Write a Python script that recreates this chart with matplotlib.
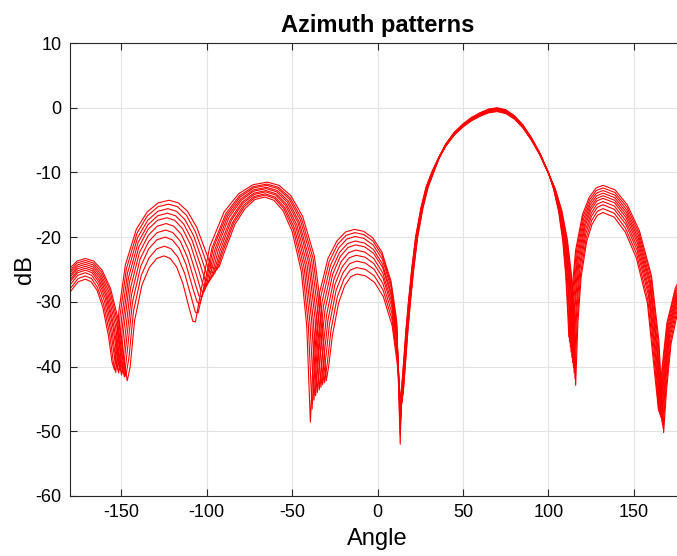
import matplotlib
matplotlib.use('Agg')
import matplotlib.pyplot as plt

# azimuth patterns, 10 cuts (angle in deg, level in dB)
curve0_angle = [-180.0, -175.3, -171.0, -167.6, -164.2, -160.8, -157.4, -155.4, -154.0,
                -151.4, -147.6, -141.2, -134.8, -128.4, -122.0, -116.6, -111.2, -105.8, -100.4, -97.2, -95.0,
                -92.7, -89.2, -83.4, -77.6, -71.8, -66.0, -60.7, -55.3, -50.0, -44.6, -41.4, -39.3,
                -37.2, -34.1, -29.0, -23.8, -18.7, -13.5, -8.1, -2.8, 2.6, 7.9, 11.2, 13.3,
                13.9, 15.2, 16.6, 18.1, 20.0, 22.3, 25.4, 28.4, 31.7,
                36, 40, 45, 50, 55, 60, 65, 70, 75, 80, 85, 90, 95, 100,
                103.0, 106.0, 108.4, 110.2, 111.4, 112.0,
                113.6, 116.0, 120.0, 124.0, 128.0, 132.0, 139.1, 146.2, 153.3, 160.4, 164.7, 167.5,
                169.2, 171.8, 176.1, 180.0]
curve0_db = [-28.5, -26.9, -26.5, -26.9, -28.2, -30.8, -35.4, -39.3, -40.5,
             -31.5, -24.3, -18.8, -16.1, -14.7, -14.3, -14.7, -16.0, -18.5, -22.3, -24.7, -24.8,
             -24.6, -22.0, -18.0, -15.6, -14.2, -13.8, -14.3, -15.9, -19.1, -25.3, -33.8, -48.6,
             -36.1, -28.8, -23.3, -20.6, -19.2, -18.8, -19.1, -20.1, -22.3, -26.8, -32.8, -52.0,
             -44.0, -39.5, -34.5, -30.0, -25.0, -20.0, -15.5, -12.3, -10.0,
             -7.6, -5.6, -3.8, -2.5, -1.5, -0.8, -0.2, 0.0, -0.3, -1.2, -2.6, -4.6, -7.0, -10.0,
             -12.5, -16.0, -20.5, -26.0, -32.0, -35.4,
             -29.0, -22.0, -16.5, -13.8, -12.4, -12.0, -12.7, -15.0, -19.0, -26.0, -36.0, -50.2,
             -43.6, -36.5, -31.1, -28.5]

curve1_angle = [-180.0, -175.3, -171.0, -167.4, -163.9, -160.3, -156.7, -154.6, -153.2,
                -150.7, -147.0, -140.8, -134.7, -128.5, -122.3, -117.1, -111.9, -106.7, -101.5, -98.4, -96.3,
                -93.9, -90.2, -84.1, -78.0, -71.9, -65.8, -60.3, -54.8, -49.3, -43.8, -40.5, -38.3,
                -36.3, -33.3, -28.3, -23.3, -18.3, -13.3, -8.0, -2.7, 2.7, 8.0, 11.2, 13.3,
                14.0, 15.3, 16.7, 18.2, 20.1, 22.4, 25.5, 28.5, 31.8,
                36, 40, 45, 50, 55, 60, 65, 70, 75, 80, 85, 90, 95, 100,
                103.1, 106.2, 108.7, 110.5, 111.8, 112.4,
                114.0, 116.3, 120.2, 124.2, 128.1, 132.0, 139.0, 146.1, 153.1, 160.2, 164.4, 167.2,
                168.9, 171.6, 175.9, 180.0]
curve1_db = [-28.0, -26.4, -26.0, -26.4, -27.8, -30.4, -35.1, -39.4, -40.9,
             -32.1, -24.9, -19.4, -16.7, -15.3, -14.9, -15.3, -16.6, -19.1, -22.9, -25.3, -25.5,
             -25.0, -22.0, -17.8, -15.3, -13.9, -13.5, -14.0, -15.6, -18.8, -25.0, -33.5, -46.6,
             -36.3, -29.3, -23.8, -21.1, -19.7, -19.3, -19.6, -20.6, -22.8, -27.3, -33.3, -50.5,
             -44.0, -39.5, -34.5, -30.0, -25.0, -20.0, -15.5, -12.3, -10.0,
             -7.6, -5.6, -3.8, -2.6, -1.6, -0.8, -0.3, -0.1, -0.4, -1.3, -2.7, -4.6, -7.0, -10.0,
             -12.5, -16.0, -20.5, -26.0, -32.0, -36.2,
             -29.4, -22.4, -16.9, -14.2, -12.8, -12.4, -13.1, -15.4, -19.4, -26.4, -36.4, -49.5,
             -43.1, -36.0, -30.6, -28.0]

curve2_angle = [-180.0, -175.5, -171.0, -167.3, -163.5, -159.8, -156.1, -153.8, -152.3,
                -149.9, -146.4, -140.5, -134.5, -128.6, -122.7, -117.7, -112.7, -107.6, -102.6, -99.6, -97.6,
                -95.1, -91.2, -84.8, -78.5, -72.1, -65.7, -60.0, -54.3, -48.6, -42.9, -39.5, -37.2,
                -35.3, -32.4, -27.6, -22.8, -18.0, -13.2, -7.9, -2.6, 2.8, 8.1, 11.3, 13.4,
                14.2, 15.5, 16.9, 18.4, 20.3, 22.6, 25.7, 28.7, 32.0,
                36, 40, 45, 50, 55, 60, 65, 70, 75, 80, 85, 90, 95, 100,
                103.2, 106.5, 109.0, 111.0, 112.3, 112.9,
                114.4, 116.7, 120.5, 124.4, 128.2, 132.0, 139.0, 145.9, 152.9, 159.8, 164.0, 166.8,
                168.6, 171.3, 175.7, 180.0]
curve2_db = [-27.4, -25.9, -25.5, -25.9, -27.3, -29.9, -34.6, -38.9, -40.4,
             -32.8, -25.6, -20.1, -17.4, -16.0, -15.6, -16.0, -17.3, -19.8, -23.6, -26.0, -26.2,
             -25.5, -22.1, -17.7, -15.1, -13.7, -13.3, -13.8, -15.4, -18.6, -24.8, -33.3, -45.2,
             -37.2, -29.9, -24.4, -21.7, -20.3, -19.9, -20.2, -21.2, -23.4, -27.9, -33.9, -49.5,
             -44.0, -39.5, -34.5, -30.0, -25.0, -20.0, -15.5, -12.3, -10.0,
             -7.7, -5.7, -3.9, -2.6, -1.6, -0.9, -0.3, -0.1, -0.4, -1.3, -2.7, -4.7, -7.1, -10.0,
             -12.5, -16.0, -20.5, -26.0, -32.0, -37.0,
             -29.8, -22.8, -17.3, -14.6, -13.2, -12.8, -13.5, -15.8, -19.8, -26.8, -36.8, -49.0,
             -42.6, -35.5, -30.1, -27.4]

curve3_angle = [-180.0, -175.5, -171.0, -167.1, -163.2, -159.3, -155.4, -153.1, -151.5,
                -149.2, -145.8, -140.1, -134.4, -128.7, -123.0, -118.2, -113.4, -108.5, -103.7, -100.8, -98.9,
                -96.2, -92.2, -85.5, -78.9, -72.2, -65.5, -59.6, -53.8, -47.9, -42.1, -38.5, -36.2,
                -34.3, -31.6, -26.9, -22.3, -17.6, -13.0, -7.7, -2.4, 2.8, 8.1, 11.3, 13.4,
                14.3, 15.6, 17.0, 18.5, 20.4, 22.7, 25.8, 28.8, 32.1,
                36, 40, 45, 50, 55, 60, 65, 70, 75, 80, 85, 90, 95, 100,
                103.3, 106.7, 109.3, 111.3, 112.6, 113.3,
                114.8, 117.0, 120.8, 124.5, 128.3, 132.0, 138.9, 145.8, 152.7, 159.6, 163.7, 166.5,
                168.3, 171.0, 175.5, 180.0]
curve3_db = [-26.9, -25.5, -25.1, -25.5, -26.9, -29.5, -34.4, -39.1, -41.0,
             -33.5, -26.3, -20.8, -18.1, -16.7, -16.3, -16.7, -18.0, -20.5, -24.3, -26.7, -26.9,
             -25.9, -22.1, -17.4, -14.8, -13.4, -13.0, -13.5, -15.1, -18.3, -24.5, -33.0, -44.5,
             -37.6, -30.6, -25.1, -22.4, -21.0, -20.6, -20.9, -21.9, -24.1, -28.6, -34.6, -48.8,
             -44.0, -39.5, -34.5, -30.0, -25.0, -20.0, -15.5, -12.3, -10.0,
             -7.7, -5.7, -3.9, -2.7, -1.7, -0.9, -0.4, -0.2, -0.5, -1.4, -2.8, -4.7, -7.1, -10.0,
             -12.5, -16.0, -20.5, -26.0, -32.0, -37.8,
             -30.2, -23.2, -17.7, -15.0, -13.6, -13.2, -13.9, -16.2, -20.2, -27.2, -37.2, -48.5,
             -42.2, -35.1, -29.7, -26.9]

curve4_angle = [-180.0, -175.5, -171.0, -166.9, -162.9, -158.8, -154.7, -152.3, -150.7,
                -148.5, -145.2, -139.7, -134.3, -128.8, -123.3, -118.7, -114.1, -109.4, -104.8, -102.1, -100.2,
                -97.4, -93.2, -86.2, -79.3, -72.3, -65.3, -59.3, -53.3, -47.2, -41.2, -37.6, -35.2,
                -33.4, -30.7, -26.2, -21.8, -17.3, -12.8, -7.5, -2.3, 3.0, 8.2, 11.4, 13.5,
                14.4, 15.7, 17.1, 18.6, 20.5, 22.8, 25.9, 28.9, 32.2,
                36, 40, 45, 50, 55, 60, 65, 70, 75, 80, 85, 90, 95, 100,
                103.5, 106.9, 109.7, 111.7, 113.1, 113.8,
                115.3, 117.4, 121.1, 124.7, 128.4, 132.0, 138.8, 145.7, 152.5, 159.4, 163.5, 166.2,
                168.0, 170.7, 175.3, 180.0]
curve4_db = [-26.6, -25.2, -24.8, -25.2, -26.6, -29.2, -34.1, -38.8, -40.6,
             -34.2, -27.0, -21.5, -18.8, -17.4, -17.0, -17.4, -18.7, -21.2, -25.0, -27.4, -27.6,
             -26.3, -22.0, -17.3, -14.6, -13.2, -12.8, -13.3, -14.9, -18.1, -24.3, -32.8, -44.0,
             -38.0, -31.2, -25.7, -23.0, -21.6, -21.2, -21.5, -22.5, -24.7, -29.2, -35.2, -48.2,
             -44.0, -39.5, -34.5, -30.0, -25.0, -20.0, -15.5, -12.3, -10.0,
             -7.7, -5.7, -4.0, -2.7, -1.7, -1.0, -0.5, -0.3, -0.6, -1.4, -2.8, -4.8, -7.1, -10.0,
             -12.5, -16.0, -20.5, -26.0, -32.0, -38.6,
             -30.6, -23.6, -18.1, -15.4, -14.0, -13.6, -14.3, -16.6, -20.6, -27.6, -37.6, -48.0,
             -41.9, -34.8, -29.4, -26.6]

curve5_angle = [-180.0, -175.7, -171.0, -166.8, -162.5, -158.3, -154.1, -151.5, -149.8,
                -147.7, -144.6, -139.4, -134.1, -128.9, -123.7, -119.3, -114.8, -110.4, -105.9, -103.3, -101.5,
                -98.6, -94.2, -87.0, -79.7, -72.5, -65.2, -59.0, -52.8, -46.5, -40.3, -36.6, -34.1,
                -32.4, -29.8, -25.5, -21.3, -17.0, -12.7, -7.5, -2.2, 3.0, 8.3, 11.4, 13.5,
                14.6, 15.9, 17.3, 18.8, 20.7, 23.0, 26.1, 29.1, 32.4,
                36, 40, 45, 50, 55, 60, 65, 70, 75, 80, 85, 90, 95, 100,
                103.6, 107.1, 109.9, 112.1, 113.5, 114.2,
                115.6, 117.8, 121.3, 124.9, 128.4, 132.0, 138.8, 145.5, 152.3, 159.0, 163.1, 165.8,
                167.7, 170.5, 175.1, 180.0]
curve5_db = [-26.2, -24.9, -24.5, -24.9, -26.3, -29.0, -34.0, -39.1, -41.3,
             -35.1, -27.9, -22.4, -19.7, -18.3, -17.9, -18.3, -19.6, -22.1, -25.9, -28.3, -28.4,
             -26.6, -21.9, -17.0, -14.3, -12.9, -12.5, -13.0, -14.6, -17.8, -24.0, -32.5, -43.6,
             -38.5, -32.0, -26.5, -23.8, -22.4, -22.0, -22.3, -23.3, -25.5, -30.0, -36.0, -47.6,
             -44.0, -39.5, -34.5, -30.0, -25.0, -20.0, -15.5, -12.3, -10.0,
             -7.7, -5.8, -4.0, -2.8, -1.8, -1.1, -0.5, -0.3, -0.6, -1.5, -2.9, -4.8, -7.1, -10.1,
             -12.5, -16.0, -20.5, -26.0, -32.0, -39.4,
             -31.0, -24.0, -18.5, -15.8, -14.4, -14.0, -14.7, -17.0, -21.0, -28.0, -38.0, -47.8,
             -41.6, -34.5, -29.1, -26.2]

curve6_angle = [-180.0, -175.7, -171.0, -166.6, -162.2, -157.8, -153.4, -150.8, -149.0,
                -147.0, -144.0, -139.0, -134.0, -129.0, -124.0, -119.8, -115.5, -111.3, -107.0, -104.5, -102.8,
                -99.8, -95.2, -87.7, -80.1, -72.6, -65.0, -58.6, -52.2, -45.9, -39.5, -35.7, -33.1,
                -31.5, -29.0, -24.9, -20.7, -16.6, -12.5, -7.3, -2.1, 3.2, 8.4, 11.5, 13.6,
                14.7, 16.0, 17.4, 18.9, 20.8, 23.1, 26.2, 29.2, 32.5,
                36, 40, 45, 50, 55, 60, 65, 70, 75, 80, 85, 90, 95, 100,
                103.7, 107.4, 110.3, 112.5, 114.0, 114.7,
                116.1, 118.2, 121.6, 125.1, 128.5, 132.0, 138.7, 145.4, 152.1, 158.8, 162.8, 165.5,
                167.4, 170.2, 174.9, 180.0]
curve6_db = [-25.9, -24.6, -24.2, -24.6, -26.0, -28.7, -33.7, -38.8, -41.0,
             -36.1, -28.9, -23.4, -20.7, -19.3, -18.9, -19.3, -20.6, -23.1, -26.9, -29.1, -29.2,
             -27.0, -21.9, -16.8, -14.1, -12.7, -12.3, -12.8, -14.4, -17.6, -23.8, -32.3, -43.2,
             -38.9, -32.8, -27.3, -24.6, -23.2, -22.8, -23.1, -24.1, -26.3, -30.8, -36.8, -47.2,
             -44.0, -39.5, -34.5, -30.0, -25.0, -20.0, -15.5, -12.3, -10.0,
             -7.8, -5.8, -4.1, -2.8, -1.9, -1.1, -0.6, -0.4, -0.7, -1.6, -2.9, -4.9, -7.2, -10.1,
             -12.5, -16.0, -20.5, -26.0, -32.0, -40.2,
             -31.5, -24.5, -19.0, -16.3, -14.9, -14.5, -15.2, -17.5, -21.5, -28.5, -38.5, -47.5,
             -41.3, -34.2, -28.8, -25.9]

curve7_angle = [-180.0, -175.7, -171.0, -166.4, -161.9, -157.3, -152.7, -150.0, -148.2,
                -146.3, -143.4, -138.6, -133.9, -129.1, -124.3, -120.2, -116.1, -112.1, -108.0, -105.5, -103.9,
                -100.8, -96.1, -88.3, -80.4, -72.6, -64.8, -58.3, -51.7, -45.2, -38.6, -34.7, -32.1,
                -30.5, -28.1, -24.2, -20.2, -16.3, -12.3, -7.1, -1.9, 3.2, 8.4, 11.5, 13.6,
                14.8, 16.1, 17.5, 19.0, 20.9, 23.2, 26.3, 29.3, 32.6,
                36, 40, 45, 50, 55, 60, 65, 70, 75, 80, 85, 90, 95, 100,
                103.8, 107.6, 110.6, 112.8, 114.3, 115.1,
                116.5, 118.5, 121.9, 125.2, 128.6, 132.0, 138.6, 145.3, 151.9, 158.6, 162.5, 165.2,
                167.1, 169.9, 174.7, 180.0]
curve7_db = [-25.5, -24.3, -23.9, -24.3, -25.7, -28.4, -33.5, -39.0, -41.6,
             -37.2, -30.0, -24.5, -21.8, -20.4, -20.0, -20.4, -21.7, -24.2, -28.0, -30.1, -30.2,
             -27.4, -21.7, -16.6, -13.8, -12.4, -12.0, -12.5, -14.1, -17.3, -23.5, -32.0, -42.8,
             -39.2, -33.4, -28.2, -25.5, -24.1, -23.7, -24.0, -25.0, -27.2, -31.7, -37.7, -46.8,
             -44.0, -39.5, -34.5, -30.0, -25.0, -20.0, -15.5, -12.3, -10.0,
             -7.8, -5.9, -4.1, -2.9, -1.9, -1.2, -0.7, -0.5, -0.8, -1.6, -3.0, -4.9, -7.2, -10.1,
             -12.5, -16.0, -20.5, -26.0, -32.0, -41.0,
             -32.0, -25.0, -19.5, -16.8, -15.4, -15.0, -15.7, -18.0, -22.0, -29.0, -39.0, -47.3,
             -41.0, -33.9, -28.5, -25.5]

curve8_angle = [-180.0, -175.9, -171.0, -166.3, -161.5, -156.8, -152.1, -149.2, -147.3,
                -145.5, -142.8, -138.3, -133.7, -129.2, -124.7, -120.8, -116.8, -112.9, -108.9, -106.6, -105.0,
                -101.8, -96.9, -88.9, -80.8, -72.8, -64.7, -58.0, -51.2, -44.5, -37.7, -33.7, -31.0,
                -29.5, -27.2, -23.5, -19.7, -16.0, -12.2, -7.0, -1.8, 3.3, 8.5, 11.6, 13.7,
                15.0, 16.3, 17.7, 19.2, 21.1, 23.4, 26.5, 29.5, 32.8,
                36, 40, 45, 50, 55, 60, 65, 70, 75, 80, 85, 90, 95, 100,
                103.9, 107.8, 110.9, 113.3, 114.8, 115.6,
                116.9, 118.9, 122.2, 125.4, 128.7, 132.0, 138.6, 145.1, 151.7, 158.2, 162.2, 164.8,
                166.7, 169.6, 174.5, 180.0]
curve8_db = [-25.2, -24.0, -23.6, -24.0, -25.4, -28.1, -33.2, -38.7, -41.5,
             -38.6, -31.4, -25.9, -23.2, -21.8, -21.4, -21.8, -23.1, -25.6, -29.4, -31.6, -31.7,
             -27.9, -21.7, -16.4, -13.6, -12.2, -11.8, -12.3, -13.9, -17.1, -23.3, -31.8, -42.5,
             -39.7, -34.3, -29.2, -26.5, -25.1, -24.7, -25.0, -26.0, -28.2, -32.7, -38.7, -46.4,
             -44.0, -39.5, -34.5, -30.0, -25.0, -20.0, -15.5, -12.3, -10.0,
             -7.8, -5.9, -4.2, -2.9, -2.0, -1.3, -0.7, -0.5, -0.8, -1.7, -3.0, -4.9, -7.2, -10.1,
             -12.5, -16.0, -20.5, -26.0, -32.0, -41.9,
             -32.6, -25.6, -20.1, -17.4, -16.0, -15.6, -16.3, -18.6, -22.6, -29.6, -39.6, -47.0,
             -40.7, -33.6, -28.2, -25.2]

curve9_angle = [-180.0, -175.9, -171.0, -166.1, -161.2, -156.3, -151.4, -148.5, -146.5,
                -144.8, -142.2, -137.9, -133.6, -129.3, -125.0, -121.3, -117.6, -114.0, -110.3, -108.1, -106.6,
                -103.2, -98.2, -89.8, -81.3, -72.9, -64.5, -57.6, -50.7, -43.8, -36.9, -32.8, -30.0,
                -28.6, -26.4, -22.8, -19.2, -15.6, -12.0, -6.9, -1.7, 3.4, 8.6, 11.6, 13.7,
                15.1, 16.4, 17.8, 19.3, 21.2, 23.5, 26.6, 29.6, 32.9,
                36, 40, 45, 50, 55, 60, 65, 70, 75, 80, 85, 90, 95, 100,
                104.0, 108.0, 111.2, 113.6, 115.2, 116.0,
                117.3, 119.2, 122.4, 125.6, 128.8, 132.0, 138.5, 145.0, 151.5, 158.0, 161.9, 164.5,
                166.5, 169.4, 174.3, 180.0]
curve9_db = [-24.8, -23.7, -23.3, -23.7, -25.1, -27.9, -33.1, -38.9, -42.2,
             -40.1, -32.9, -27.4, -24.7, -23.3, -22.9, -23.3, -24.6, -27.1, -30.9, -33.0, -33.1,
             -28.1, -21.5, -16.1, -13.3, -11.9, -11.5, -12.0, -13.6, -16.8, -23.0, -31.5, -42.2,
             -40.0, -35.2, -30.2, -27.5, -26.1, -25.7, -26.0, -27.0, -29.2, -33.7, -39.7, -46.0,
             -44.0, -39.5, -34.5, -30.0, -25.0, -20.0, -15.5, -12.3, -10.0,
             -7.8, -5.9, -4.2, -3.0, -2.0, -1.3, -0.8, -0.6, -0.9, -1.7, -3.1, -5.0, -7.3, -10.1,
             -12.5, -16.0, -20.5, -26.0, -32.0, -42.9,
             -33.2, -26.2, -20.7, -18.0, -16.6, -16.2, -16.9, -19.2, -23.2, -30.2, -40.2, -46.8,
             -40.4, -33.3, -27.9, -24.8]

curves = [
    (curve0_angle, curve0_db), (curve1_angle, curve1_db), (curve2_angle, curve2_db),
    (curve3_angle, curve3_db), (curve4_angle, curve4_db), (curve5_angle, curve5_db),
    (curve6_angle, curve6_db), (curve7_angle, curve7_db), (curve8_angle, curve8_db),
    (curve9_angle, curve9_db),
]
x_ticks = [-150, -100, -50, 0, 50, 100, 150]
y_ticks = [-60, -50, -40, -30, -20, -10, 0, 10]

plt.rcParams['font.family'] = ['Liberation Sans', 'DejaVu Sans']
plt.rcParams['axes.unicode_minus'] = False

fig = plt.figure(figsize=(6.77, 5.56), dpi=100)
# axes runs a little past the right edge of the canvas, as in the original
ax = fig.add_axes([70 / 677, 1 - 496 / 556, 615 / 677, 453 / 556])

for ang, db in curves:
    ax.plot(ang, db, color='#ff0000', linewidth=0.8)

ax.set_xlim(-180, 180)
ax.set_ylim(-60, 10)
ax.set_xticks(x_ticks)
ax.set_yticks(y_ticks)
ax.grid(True, color='#e3e3e3', linewidth=0.8)
ax.set_axisbelow(True)
ax.tick_params(direction='in', length=5, width=0.8, top=True, right=True, pad=6,
               labelsize=13, colors='#262626', labelcolor='black')
for s in ax.spines.values():
    s.set_color('#262626')
    s.set_linewidth(0.8)

ax.set_title('Azimuth patterns', fontsize=17, fontweight='bold', pad=8)
ax.set_xlabel('Angle', fontsize=17, labelpad=5)
ax.set_ylabel('dB', fontsize=17, labelpad=0)

fig.savefig('out.png', dpi=100)
